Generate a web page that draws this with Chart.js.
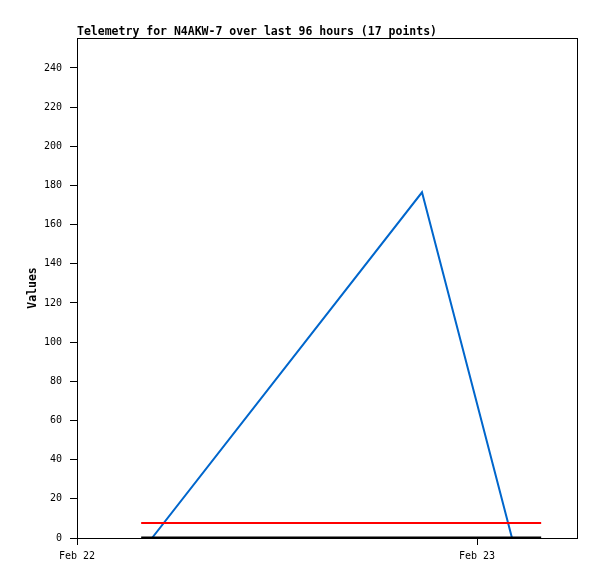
<!DOCTYPE html>
<html>
<head>
<meta charset="utf-8">
<script src="https://cdn.jsdelivr.net/npm/chart.js@4.4.1/dist/chart.umd.min.js"></script>
<style>
  html, body { margin: 0; padding: 0; background: #fff; }
  #wrap { width: 597px; height: 579px; }
</style>
</head>
<body>
<div id="wrap"><canvas id="telemetryChart"></canvas></div>
<script>
// hours since Feb 22 00:00
const titleText = 'Telemetry for N4AKW-7 over last 96 hours (17 points)';
const dayLabels = { 0: 'Feb 22', 24: 'Feb 23' };

const blueHours = [4.5, 20.7, 26.1];
const blueValues = [0, 176.5, 0];

const redHours = [3.85, 27.85];
const redValues = [7.7, 7.7];

const blackHours = [3.85, 27.85];
const blackValues = [0, 0];

const yTicks = [0, 20, 40, 60, 80, 100, 120, 140, 160, 180, 200, 220, 240];

function toPoints(xs, ys) {
  return xs.map((x, i) => ({ x: x, y: ys[i] }));
}

// cadre + titre a gauche
const framePlugin = {
  id: 'frame',
  afterDraw(chart) {
    const { ctx, chartArea } = chart;
    ctx.save();
    ctx.strokeStyle = '#000';
    ctx.lineWidth = 1;
    ctx.strokeRect(chartArea.left + 0.5, chartArea.top + 0.5,
      chartArea.right - chartArea.left, chartArea.bottom - chartArea.top);
    ctx.fillStyle = '#000';
    ctx.font = 'bold 11.5px "DejaVu Sans Mono"';
    ctx.textBaseline = 'bottom';
    ctx.fillText(titleText, chartArea.left, chartArea.top);
    ctx.restore();
  }
};

const monoFont = { family: '"DejaVu Sans Mono"', size: 10 };

const ctx = document.getElementById('telemetryChart').getContext('2d');
new Chart(ctx, {
  type: 'line',
  data: {
    datasets: [
      { data: toPoints(blackHours, blackValues), borderColor: '#000000', borderWidth: 3, pointRadius: 0, tension: 0 },
      { data: toPoints(redHours, redValues), borderColor: '#ff0000', borderWidth: 2, pointRadius: 0, tension: 0 },
      { data: toPoints(blueHours, blueValues), borderColor: '#0066cc', borderWidth: 2, pointRadius: 0, tension: 0 }
    ]
  },
  options: {
    responsive: true,
    maintainAspectRatio: false,
    animation: false,
    layout: { padding: { left: 0, right: 20, top: 38, bottom: 0 } },
    plugins: { legend: { display: false }, tooltip: { enabled: false } },
    scales: {
      x: {
        type: 'linear',
        min: 0,
        max: 30,
        afterBuildTicks: s => { s.ticks = Object.keys(dayLabels).map(v => ({ value: +v })); },
        afterFit: s => { s.height = 41; },
        ticks: {
          color: '#000',
          font: monoFont,
          padding: 5,
          maxRotation: 0,
          callback: v => dayLabels[v] || ''
        },
        grid: { drawOnChartArea: false, drawTicks: true, tickLength: 7, color: '#000' },
        border: { color: '#000' }
      },
      y: {
        min: 0,
        max: 255.3,
        afterBuildTicks: s => { s.ticks = yTicks.map(v => ({ value: v })); },
        afterFit: s => { s.width = 77; },
        ticks: { color: '#000', font: monoFont, padding: 8 },
        grid: { drawOnChartArea: false, drawTicks: true, tickLength: 7, color: '#000' },
        border: { color: '#000' },
        title: {
          display: true,
          text: 'Values',
          color: '#000',
          font: { family: '"DejaVu Sans Mono"', size: 11.5, weight: 'bold' },
          padding: { top: 26, bottom: 0 }
        }
      }
    }
  },
  plugins: [framePlugin]
});
</script>
</body>
</html>
